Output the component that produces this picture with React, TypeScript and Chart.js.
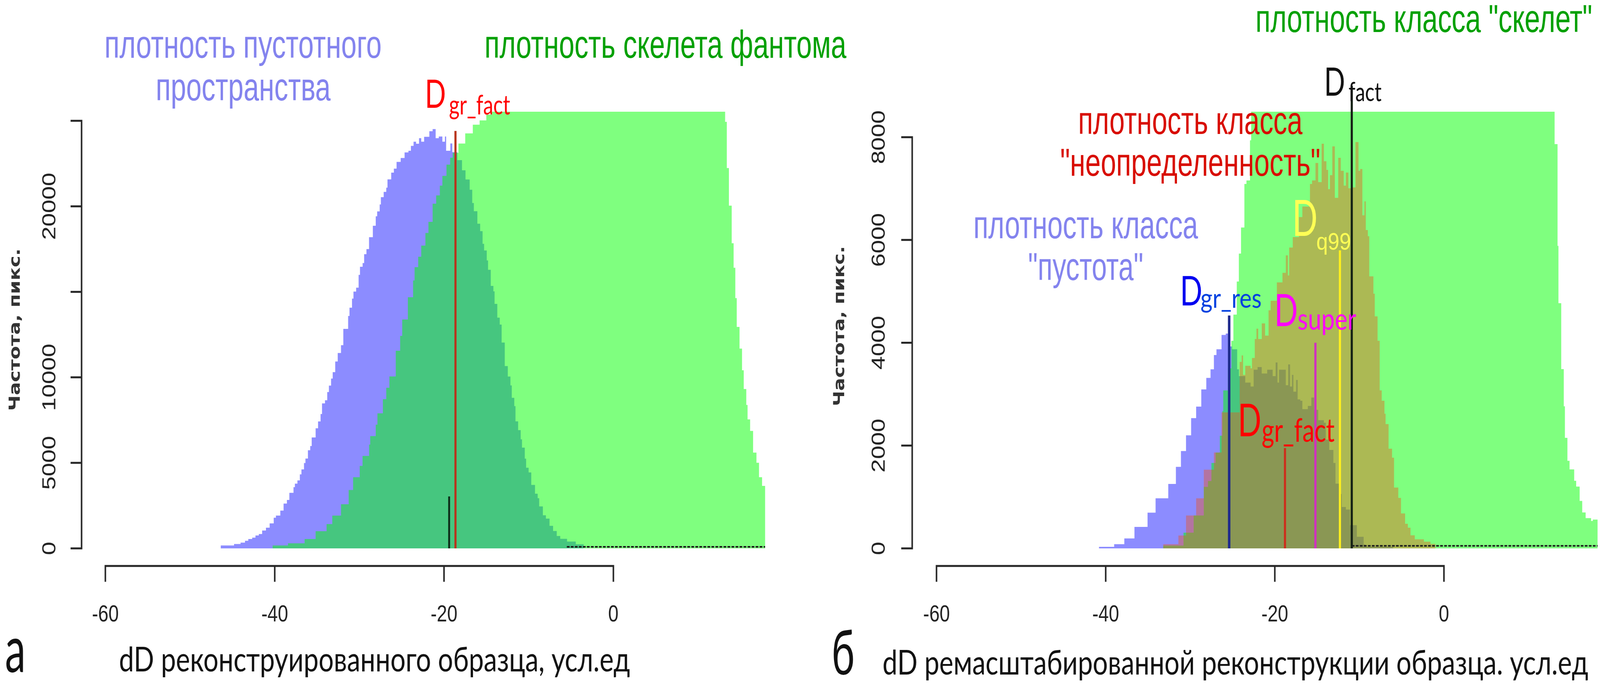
import { useEffect, useRef } from 'react';
import { Chart, registerables } from 'chart.js';

Chart.register(...registerables);

// panel a: left edge of each histogram step and its count
const voidEdgesA = [-46.38, -44.81, -44.03, -43.51, -43.12, -42.66, -42.27, -41.88, -41.49, -41.03, -40.6, -40.12, -39.86, -39.34, -38.95, -38.56, -38.27, -37.78, -37.62, -37.32, -37.03, -36.84, -36.54, -36.37, -36.08, -35.8, -35.63, -35.17, -34.88, -34.58, -34.41, -34.06, -33.8, -33.6, -33.34, -33.15, -32.85, -32.56, -32.17, -31.9, -31.33, -31.17, -30.87, -30.7, -30.38, -30.09, -29.93, -29.62, -29.44, -29.16, -28.86, -28.41, -28.07, -27.9, -27.6, -27.46, -27.13, -26.83, -26.68, -26.24, -25.93, -25.61, -25.12, -24.66, -24.21, -23.91, -23.6, -23.3, -22.96, -22.69, -22.35, -21.74, -21.35, -20.99, -20.62, -20.2, -19.89, -19.75, -19.26, -19.02, -18.43, -17.88, -17.46, -16.97, -16.67, -16.48, -16.06, -15.73, -15.45, -15.27, -14.96, -14.8, -14.48, -14.17, -14.03, -13.71, -13.42, -13.2, -12.83, -12.47, -12.16, -12, -11.7, -11.56, -11.25, -10.95, -10.79, -10.46, -10.3, -10.01, -9.7, -9.25, -8.94, -8.76, -8.33, -7.97, -7.54, -7.12, -6.69, -6.27, -5.47, -4.44, -3.5];
const voidCountsA = [173, 257, 339, 447, 547, 630, 755, 838, 1045, 1211, 1460, 1793, 1917, 2207, 2623, 2830, 3246, 3577, 3785, 3976, 4325, 4616, 4989, 5255, 5736, 5985, 6484, 7023, 7422, 7854, 8476, 8659, 9141, 9514, 9929, 10303, 10926, 11424, 11881, 12835, 13586, 14075, 14605, 15012, 15241, 15991, 16464, 16684, 17198, 17500, 18193, 18861, 19416, 19701, 20109, 20533, 20843, 21087, 21576, 21968, 22204, 22596, 22824, 23150, 23248, 23533, 23778, 23656, 23982, 23778, 24063, 24390, 24512, 23982, 24080, 23778, 24080, 23248, 23672, 23166, 22700, 22102, 21569, 20971, 20195, 19711, 18983, 18547, 17804, 17416, 16834, 16285, 15347, 15024, 14297, 13489, 13085, 12035, 10661, 10047, 9530, 8803, 8318, 7429, 6912, 6379, 5894, 5248, 4714, 4439, 3712, 3195, 2936, 2452, 1935, 1741, 1321, 1014, 723, 561, 399, 238, 60];
const skeletonEdgesA = [-40.25, -38.43, -36.47, -35.17, -33.87, -33.2, -32.17, -31.26, -30.74, -29.96, -29.63, -28.85, -28.72, -28.07, -27.87, -27.22, -26.83, -26.46, -25.7, -25.18, -24.94, -24.27, -23.66, -23.48, -23.05, -22.69, -22.2, -21.84, -21.35, -20.93, -20.5, -20.2, -19.71, -19.28, -18.98, -18.3, -17.5, -16.6, -15.8, -15, -14.5, -10, -5, 0, 5, 10, 13.2, 13.4, 13.65, 13.98, 14.2, 14.4, 14.57, 14.9, 15.2, 15.4, 15.7, 15.85, 16.15, 16.5, 16.9, 17.2, 17.56, 17.92];
const skeletonCountsA = [173, 298, 547, 1004, 1419, 1917, 2581, 3412, 4159, 4823, 5404, 6069, 6567, 7231, 7895, 8725, 9390, 10054, 11552, 12420, 13382, 14686, 15665, 16439, 17051, 17703, 18437, 19090, 20150, 20639, 21210, 21780, 22433, 22840, 23126, 23670, 24261, 24768, 25021, 25359, 27000, 36000, 40000, 40000, 38000, 33000, 24937, 22234, 20039, 17843, 16407, 14634, 12945, 11678, 10411, 9314, 8385, 7540, 6865, 5598, 5006, 4162, 3656, 3656];

// panel b
const voidEdgesB = [-40.8, -39, -37.8, -36.6, -35.05, -34.1, -32.6, -31.7, -31.1, -30.5, -29.9, -29.3, -28.7, -28.1, -27.6, -27.2, -26.9, -26.3, -25.8, -25.5, -25.05, -24.45, -24.24, -23.5, -22.86, -22.5, -22.04, -21.55, -20.9, -20.25, -19.9, -19.68, -19.5, -18.7, -18.42, -18.2, -17.97, -17.8, -17.48, -17.3, -16.99, -16.74, -16.1, -15.68, -15.35, -14.87, -14.2, -13.97, -13.56, -13.07, -12.83, -12.34, -12.09, -11.6, -11.1, -10.3, -9.5, -9.3, -6];
const voidCountsB = [30, 82, 194, 417, 696, 974, 1253, 1587, 1894, 2200, 2535, 2758, 3093, 3316, 3483, 3762, 3873, 4152, 4180, 3929, 3873, 3483, 3351, 3225, 3150, 3477, 3528, 3402, 3477, 3351, 3616, 3225, 3477, 3175, 3578, 3150, 3376, 3049, 3276, 2898, 2872, 2709, 2772, 2935, 2696, 2494, 2444, 2116, 1915, 1663, 1260, 1058, 806, 756, 453, 226, 76, 30, 30];
const skeletonEdgesB = [-33.2, -30.8, -29.6, -28.4, -27.9, -27.5, -27, -26.5, -26.2, -26.1, -25.55, -25.14, -24.9, -24.5, -24.25, -24, -23.6, -23.35, -22.94, -22.8, -20, -15, -10, -5, 0, 5, 10, 13.08, 13.43, 13.54, 13.87, 14.17, 14.3, 14.6, 14.85, 15.4, 15.64, 16.04, 16.35, 16.75, 17.4, 17.6, 18.16];
const skeletonCountsB = [55, 305, 640, 1197, 1310, 1663, 1864, 2192, 2671, 3074, 3502, 4038, 4547, 5191, 5734, 6243, 7090, 7158, 7939, 9200, 10500, 12000, 13000, 13500, 13200, 12500, 11000, 7864, 5885, 4770, 3488, 2763, 2150, 1704, 1537, 1314, 1202, 924, 700, 589, 533, 561, 561];
const unsureEdgesB = [-33.2, -31.4, -30.5, -29.3, -28.4, -27.2, -26.3, -24.16, -23.92, -23.75, -23.5, -22.86, -22.7, -22.37, -22.17, -21.96, -21.55, -21.15, -20.74, -20.5, -19.76, -19.1, -18.7, -18.45, -18.3, -17.88, -17.15, -16.74, -15.84, -15.6, -15.19, -14.87, -14.46, -14.2, -13.9, -13.7, -13.48, -13.2, -12.9, -12.5, -12.2, -11.85, -11.6, -11.3, -10.95, -10.46, -10.1, -9.9, -9.65, -9.4, -9.24, -9, -8.83, -8.34, -8.18, -7.85, -7.6, -7.36, -7.04, -6.9, -6.55, -6.14, -5.9, -5.4, -5.08, -4.6, -4.27, -3.95, -3.45, -2.37, -1.6, -1];
const unsureCountsB = [82, 250, 640, 974, 1532, 1866, 2647, 3628, 3754, 3376, 3553, 3502, 3704, 4072, 4275, 4072, 4377, 4140, 4631, 4818, 5174, 5361, 5700, 5310, 5853, 6056, 6446, 6650, 7090, 7158, 7498, 7125, 7871, 7532, 7362, 6989, 7260, 7820, 6819, 7599, 7345, 7057, 7311, 7006, 7023, 7905, 7345, 7379, 6480, 6751, 6192, 6073, 5293, 4954, 4513, 4038, 3074, 2872, 2620, 2419, 1940, 1764, 1184, 982, 680, 478, 403, 254, 176, 132, 87, 87];

// vertical markers: x position and height
const markerXA = [-19.4, -18.65];
const markerTopA = [3036, 24406];
const markerXB = [-25.4, -18.8, -15.2, -12.3, -10.9];
const markerTopB = [4530, 1950, 4000, 5798, 9000];

const ticksX = [-60, -40, -20, 0];
const ticksYA = [0, 5000, 10000, 15000, 20000, 25000];
const ticksYB = [0, 2000, 4000, 6000, 8000];
const shownTicksA = [0, 5000, 10000, 20000];
const yTitle = 'Частота, пикс.';

const VOID_COLOR = 'rgba(0, 0, 255, 0.45)';
const SKELETON_COLOR = 'rgba(0, 255, 0, 0.5)';
const UNSURE_COLOR = 'rgba(240, 80, 20, 0.4)';
const TEXT_VOID = '#8383ee';
const TEXT_GREEN = '#00a000';
const TEXT_RED = '#d80c00';

const SANS = '"Liberation Sans"';
const LATO = 'Lato';
const W = 5178;
const H = 1764;

type Label = { text: string; x: number; y: number; w: number; font: string; color: string; rot?: boolean };

const labelsA: Label[] = [
    { text: 'плотность пустотного', x: 338, y: 148, w: 897, font: `100px ${SANS}`, color: TEXT_VOID },
    { text: 'пространства', x: 504, y: 257, w: 566, font: `100px ${SANS}`, color: TEXT_VOID },
    { text: 'плотность скелета фантома', x: 1568, y: 148, w: 1171, font: `100px ${SANS}`, color: TEXT_GREEN },
    { text: 'D', x: 1375, y: 276, w: 68, font: `100px ${LATO}`, color: '#ff0000' },
    { text: 'gr_fact', x: 1453, y: 293, w: 198, font: `70px ${LATO}`, color: '#ff0000' },
    { text: yTitle, x: 64, y: 1052, w: 416, font: `bold 50px "DejaVu Sans"`, color: '#333', rot: true },
    { text: 'а', x: 16, y: 1721, w: 67, font: `166px ${LATO}`, color: '#111' },
    { text: 'dD реконструированного образца, усл.ед', x: 385, y: 1719, w: 1654, font: `88px ${LATO}`, color: '#111' },
];

const labelsB: Label[] = [
    { text: 'плотность класса "скелет"', x: 4063, y: 82, w: 1090, font: `100px ${SANS}`, color: TEXT_GREEN },
    { text: 'D', x: 4285, y: 245, w: 68, font: `100px ${LATO}`, color: '#111' },
    { text: 'fact', x: 4364, y: 259, w: 107, font: `68px ${LATO}`, color: '#111' },
    { text: 'плотность класса', x: 3489, y: 343, w: 726, font: `100px ${SANS}`, color: TEXT_RED },
    { text: '"неопределенность"', x: 3431, y: 450, w: 842, font: `100px ${SANS}`, color: TEXT_RED },
    { text: 'плотность класса', x: 3150, y: 610, w: 727, font: `100px ${SANS}`, color: TEXT_VOID },
    { text: '"пустота"', x: 3327, y: 717, w: 373, font: `100px ${SANS}`, color: TEXT_VOID },
    { text: 'D', x: 3819, y: 782, w: 72, font: `104px ${LATO}`, color: '#0000f0' },
    { text: 'gr_res', x: 3885, y: 788, w: 198, font: `70px ${LATO}`, color: '#0040e0' },
    { text: 'D', x: 4124, y: 835, w: 76, font: `115px ${LATO}`, color: '#ff00ff' },
    { text: 'super', x: 4199, y: 844, w: 190, font: `78px ${LATO}`, color: '#ff00ff' },
    { text: 'D', x: 4182, y: 604, w: 82, font: `128px ${LATO}`, color: '#ffff55' },
    { text: 'q99', x: 4260, y: 639, w: 112, font: `62px ${SANS}`, color: '#ffff55' },
    { text: 'D', x: 4006, y: 1117, w: 76, font: `117px ${LATO}`, color: '#ff0000' },
    { text: 'gr_fact', x: 4083, y: 1131, w: 236, font: `84px ${LATO}`, color: '#ff0000' },
    { text: yTitle, x: 2732, y: 1040, w: 410, font: `bold 50px "DejaVu Sans"`, color: '#333', rot: true },
    { text: 'б', x: 2691, y: 1727, w: 75, font: `160px ${LATO}`, color: '#111' },
    { text: 'dD ремасштабированной реконструкции образца. усл.ед', x: 2856, y: 1727, w: 2284, font: `88px ${LATO}`, color: '#111' },
];

const toPoints = (edges: number[], counts: number[]) => edges.map((x, i) => ({ x, y: counts[i] }));

const histogram = (edges: number[], counts: number[], color: string, order: number) => ({
    data: toPoints(edges, counts),
    backgroundColor: color,
    fill: 'origin',
    stepped: true,
    borderWidth: 0,
    pointRadius: 0,
    order,
});

const marker = (x: number, top: number, color: string, width: number) => ({
    data: [{ x, y: 0 }, { x, y: top }],
    borderColor: color,
    borderWidth: width,
    pointRadius: 0,
    fill: false,
    clip: false,
    order: 0,
});

// the little black counts running along the baseline
const baselineDots = (from: number, to: number, level: number) => ({
    data: [{ x: from, y: level }, { x: to, y: level }],
    borderColor: '#1a1a1a',
    borderWidth: 4,
    borderDash: [9, 4],
    pointRadius: 0,
    fill: false,
    clip: false,
    order: 0,
});

// R style axes: the x axis hangs below the plot and only spans its ticks
const rAxes = {
    id: 'rAxes',
    afterDraw(chart: any) {
        const { ctx, scales: { x, y } } = chart;
        const xTicks = x.ticks.map((t: any) => x.getPixelForValue(t.value));
        const yTicks = y.ticks.map((t: any) => y.getPixelForValue(t.value));
        const axisY = y.getPixelForValue(0) + 45;
        ctx.save();
        ctx.strokeStyle = '#262626';
        ctx.lineWidth = 5;
        ctx.lineCap = 'square';
        ctx.beginPath();
        ctx.moveTo(xTicks[0], axisY);
        ctx.lineTo(xTicks[xTicks.length - 1], axisY);
        xTicks.forEach((px: number) => {
            ctx.moveTo(px, axisY);
            ctx.lineTo(px, axisY + 38);
        });
        ctx.moveTo(x.left, yTicks[0]);
        ctx.lineTo(x.left, yTicks[yTicks.length - 1]);
        yTicks.forEach((py: number) => {
            ctx.moveTo(x.left, py);
            ctx.lineTo(x.left - 33, py);
        });
        ctx.stroke();
        ctx.restore();
    },
};

const textLabels = (labels: Label[]) => ({
    id: 'textLabels',
    afterDraw(chart: any) {
        const { ctx } = chart;
        labels.forEach((l) => {
            ctx.save();
            ctx.font = l.font;
            ctx.fillStyle = l.color;
            ctx.textAlign = 'left';
            ctx.textBaseline = 'alphabetic';
            ctx.translate(l.x, l.y);
            if (l.rot) ctx.rotate(-Math.PI / 2);
            ctx.scale(l.w / ctx.measureText(l.text).width, 1);
            ctx.fillText(l.text, 0, 0);
            ctx.restore();
        });
    },
});

type PanelProps = {
    datasets: any[];
    labels: Label[];
    area: { left: number; right: number; top: number; bottom: number };
    xRange: [number, number];
    yMax: number;
    yTicks: number[];
    yPad: number;
    tickFilter?: number[];
};

function Panel({ datasets, labels, area, xRange, yMax, yTicks, yPad, tickFilter }: PanelProps) {
    const canvasRef = useRef<HTMLCanvasElement>(null);

    useEffect(() => {
        if (!canvasRef.current) return;
        const chart = new Chart(canvasRef.current, {
            type: 'line',
            data: { datasets },
            options: {
                responsive: false,
                devicePixelRatio: 1,
                animation: false,
                layout: { padding: { left: 0, right: W - area.right, top: area.top, bottom: 0 } },
                plugins: { legend: { display: false }, tooltip: { enabled: false } },
                scales: {
                    x: {
                        type: 'linear',
                        min: xRange[0],
                        max: xRange[1],
                        grid: { display: false },
                        border: { display: false },
                        afterFit: (s: any) => { s.height = H - area.bottom; },
                        afterBuildTicks: (s: any) => { s.ticks = ticksX.map((value) => ({ value })); },
                        ticks: {
                            maxRotation: 0,
                            padding: 126,
                            color: '#222',
                            font: { family: 'Liberation Sans', size: 60 },
                        },
                    },
                    y: {
                        min: 0,
                        max: yMax,
                        grid: { display: false },
                        border: { display: false },
                        afterFit: (s: any) => { s.width = area.left; },
                        afterBuildTicks: (s: any) => { s.ticks = yTicks.map((value) => ({ value })); },
                        ticks: {
                            autoSkip: false,
                            minRotation: 90,
                            maxRotation: 90,
                            crossAlign: 'center',
                            padding: yPad,
                            color: '#222',
                            font: { family: 'Liberation Sans', size: 62 },
                            callback: (v: any) => (!tickFilter || tickFilter.includes(v) ? String(v) : ''),
                        },
                    },
                },
            },
            plugins: [rAxes, textLabels(labels)],
        } as any);
        return () => chart.destroy();
    }, []);

    // the browser window can come out narrower than asked for, so the canvas is fitted to it
    return <canvas ref={canvasRef} width={W} height={H} style={{ position: 'absolute', left: 0, top: 0, width: '100vw', height: '100vh' }} />;
}

const datasetsA = [
    marker(markerXA[0], markerTopA[0], '#0b2a16', 6),
    marker(markerXA[1], markerTopA[1], '#b8331c', 7),
    baselineDots(-5.5, 17.92, 90),
    histogram(skeletonEdgesA, skeletonCountsA, SKELETON_COLOR, 2),
    histogram(voidEdgesA, voidCountsA, VOID_COLOR, 3),
];

const datasetsB = [
    marker(markerXB[0], markerTopB[0], '#1f2a8c', 8),
    marker(markerXB[1], markerTopB[1], '#cc2f1c', 7),
    marker(markerXB[2], markerTopB[2], '#d030c0', 7),
    marker(markerXB[3], markerTopB[3], '#fff01c', 7),
    marker(markerXB[4], markerTopB[4], '#142014', 7),
    baselineDots(-10.9, 18.16, 50),
    histogram(unsureEdgesB, unsureCountsB, UNSURE_COLOR, 1),
    histogram(skeletonEdgesB, skeletonCountsB, SKELETON_COLOR, 2),
    histogram(voidEdgesB, voidCountsB, VOID_COLOR, 3),
];

export default function App() {
    return (
        <div style={{ position: 'fixed', left: 0, top: 0, width: '100vw', height: '100vh', background: '#fff', overflow: 'hidden' }}>
            <Panel
                datasets={datasetsA}
                labels={labelsA}
                area={{ left: 264, right: 2476, top: 286, bottom: 1404 }}
                xRange={[-62.81, 17.92]}
                yMax={25530}
                yTicks={ticksYA}
                yPad={8}
                tickFilter={shownTicksA}
            />
            <Panel
                datasets={datasetsB}
                labels={labelsB}
                area={{ left: 2952, right: 5170, top: 286, bottom: 1404 }}
                xRange={[-62.88, 18.16]}
                yMax={8495}
                yTicks={ticksYB}
                yPad={29}
            />
        </div>
    );
}
